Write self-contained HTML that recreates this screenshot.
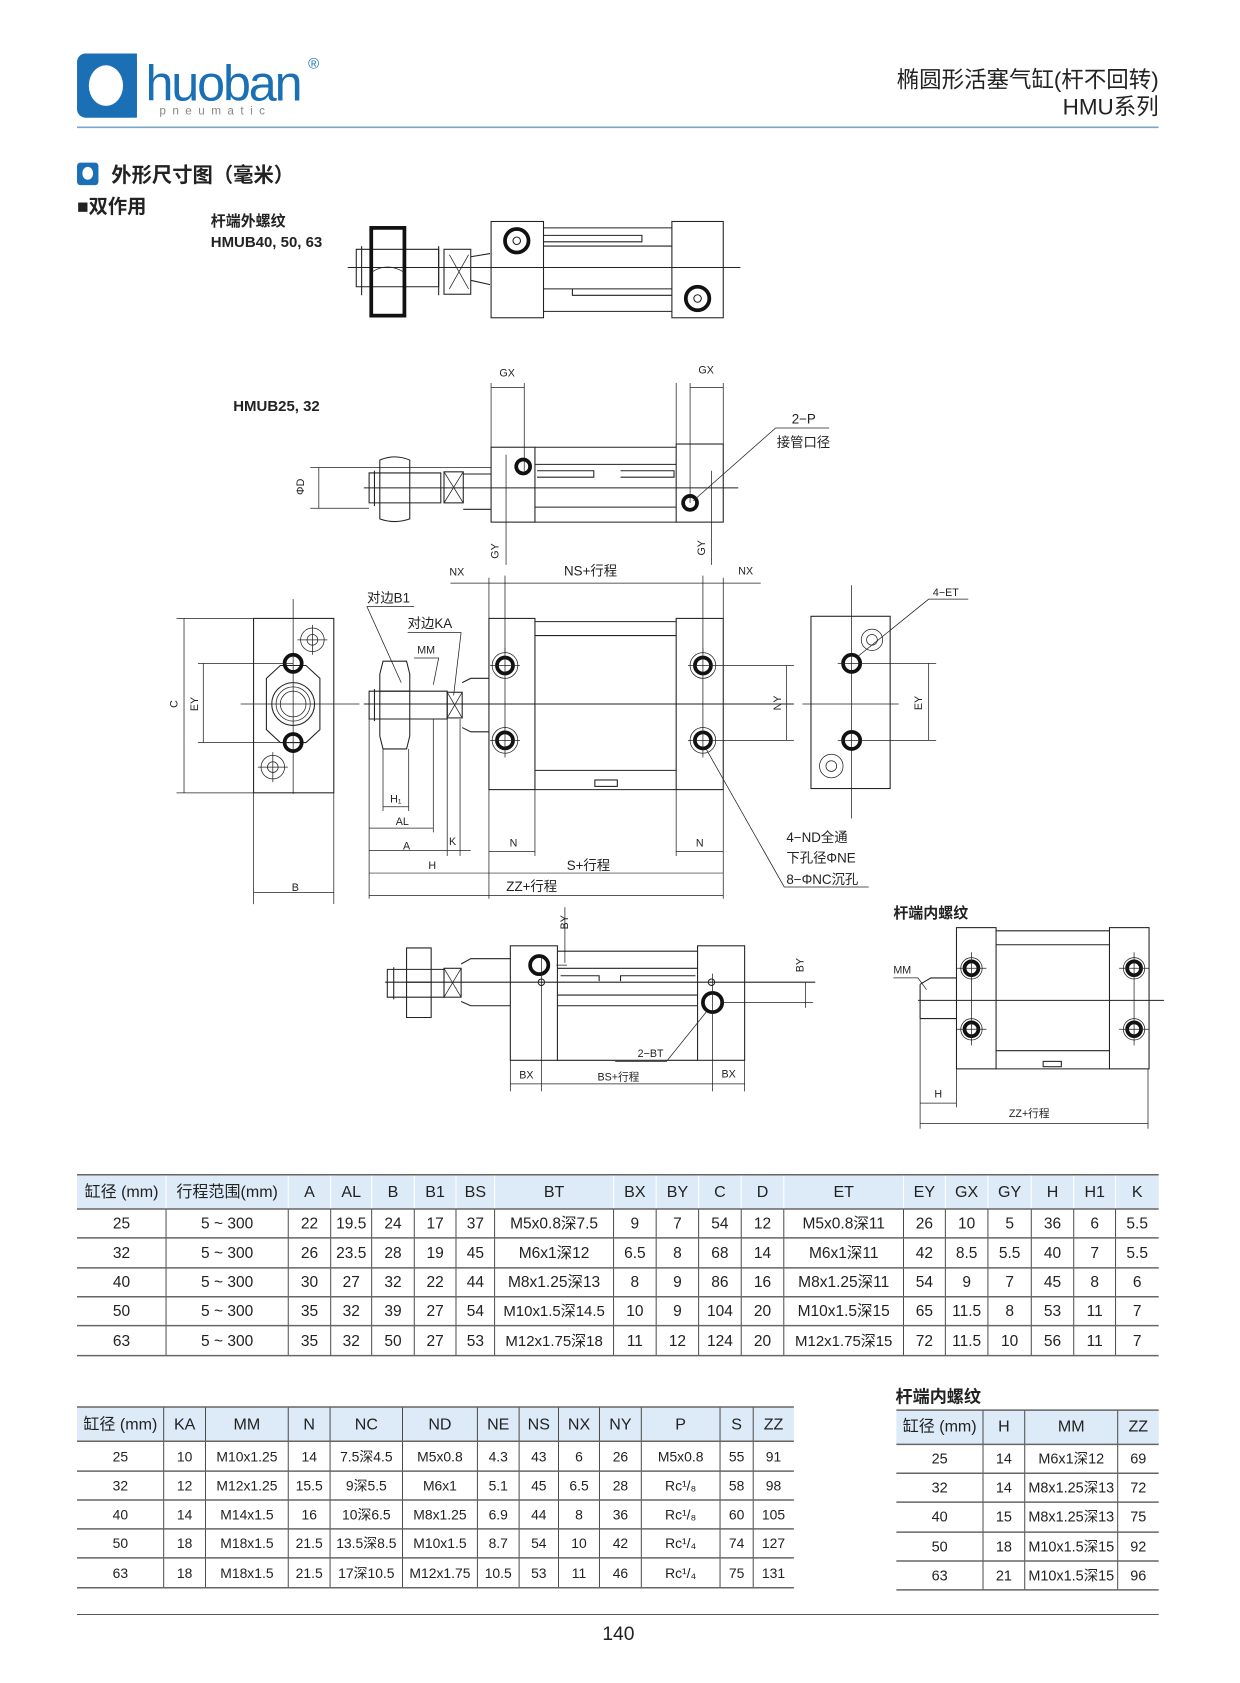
<!DOCTYPE html>
<html><head><meta charset="utf-8">
<style>
html,body{margin:0;padding:0;background:#fff;}
svg{display:block;}
text{font-family:"Liberation Sans","Noto Sans CJK SC",sans-serif;fill:#222;}
.t{font-size:14.5px;text-anchor:middle;}
.h{font-size:15px;text-anchor:middle;}
.s{font-size:10px;fill:#222;}
.m{font-size:12.5px;}
.l{stroke:#222;stroke-width:1;fill:none;}
.th{stroke:#222;stroke-width:0.7;fill:none;}
.bk{stroke:#111;stroke-width:3.5;fill:none;}
.b{font-weight:bold;}
</style></head><body>
<svg width="1240" height="1683" viewBox="0 0 1159 1573" preserveAspectRatio="none" xmlns="http://www.w3.org/2000/svg">
<rect width="1159" height="1573" fill="#fff"/>
<!-- logo -->
<rect x="72" y="50" width="56" height="60" rx="8" fill="#1b6fb5"/>
<rect x="120" y="50" width="8" height="60" fill="#1b6fb5"/>
<ellipse cx="99" cy="80" rx="16" ry="19" fill="#fff"/>
<text x="136" y="94" style="font-size:47px;fill:#1b6fb5;letter-spacing:-2px">huoban</text>
<text x="149" y="107" style="font-size:11px;fill:#888;letter-spacing:6px">pneumatic</text>
<text x="288" y="64" style="font-size:14px;fill:#1b6fb5">®</text>
<text x="1083" y="82" style="font-size:21px;text-anchor:end">椭圆形活塞气缸(杆不回转)</text>
<text x="1083" y="107" style="font-size:21px;text-anchor:end">HMU系列</text>
<line x1="72" y1="119" x2="1083" y2="119" stroke="#7aa6c8" stroke-width="1.6"/>
<!-- section -->
<rect x="72" y="152" width="20" height="21" rx="3" fill="#1b6fb5"/>
<ellipse cx="82" cy="162" rx="5" ry="6" fill="#fff"/>
<text x="104" y="170" class="b" style="font-size:19px">外形尺寸图（毫米）</text>
<text x="72" y="199" class="b" style="font-size:18px">■双作用</text>
<text x="197" y="211" class="b" style="font-size:14px">杆端外螺纹</text>
<text x="197" y="231" class="b" style="font-size:14px">HMUB40, 50, 63</text>

<!-- Drawing A -->
<g>
<line class="l" x1="325" y1="250" x2="692" y2="250"/>
<path class="l" d="M333 233 L410 233 L410 268 L333 268 Z"/>
<path class="l" d="M338 230 L338 276 M410 230 L410 276"/>
<rect class="l" x="415" y="233" width="25" height="42"/>
<path class="th" d="M420 238 L438 270 M438 238 L420 270"/>
<path class="l" d="M440 240 L458 237 M440 262 L458 266"/>
<rect class="bk" x="347" y="213" width="31" height="82"/>
<path class="th" d="M348 254 Q362 245 377 254"/>
<rect class="l" x="459" y="207" width="49" height="90"/>
<rect class="l" x="628" y="207" width="48" height="90"/>
<path class="l" d="M508 213 L628 213 M508 230 L628 230 M508 270 L628 270 M508 291 L628 291 M508 220 L600 220 L600 226 L508 226 M535 270 L535 276 L628 276"/>
<circle cx="483" cy="225" r="11" class="bk"/><circle cx="483" cy="225" r="3.5" class="l" stroke-width="2"/>
<circle cx="652" cy="279" r="11" class="bk"/><circle cx="652" cy="279" r="3.5" class="l" stroke-width="2"/>
</g>

<!-- Drawing B -->
<g>
<text x="218" y="384" class="b" style="font-size:14px">HMUB25, 32</text>
<line class="l" x1="340" y1="456" x2="690" y2="456"/>
<rect class="l" x="459" y="418" width="41" height="70"/>
<rect class="l" x="632" y="415" width="44" height="73"/>
<path class="l" d="M500 418 L632 418 M500 488 L632 488 M500 434 L632 434 M500 474 L632 474 M502 440 L555 440 L555 446 L502 446 M580 440 L630 440 L630 446 L580 446"/>
<path class="l" d="M345 442 L412 442 L412 470 L345 470 Z M350 440 L350 473"/>
<path class="l" d="M355 430 Q369 424 383 430 L383 485 Q369 490 355 485 Z"/>
<rect class="l" x="415" y="441" width="18" height="29"/><path class="th" d="M415 441 L433 470 M433 441 L415 470"/>
<path class="l" d="M433 443 L459 443 M433 476 L459 476"/>
<line class="th" x1="290" y1="437" x2="459" y2="437"/><line class="th" x1="290" y1="475" x2="345" y2="475"/>
<line class="th" x1="298" y1="437" x2="298" y2="475"/>
<text class="s" transform="translate(284,455) rotate(-90)" text-anchor="middle">ΦD</text>
<line class="th" x1="459" y1="358" x2="459" y2="418"/><line class="th" x1="490" y1="358" x2="490" y2="440"/>
<line class="th" x1="459" y1="362" x2="490" y2="362"/>
<text class="s" x="474" y="352" text-anchor="middle">GX</text>
<line class="th" x1="632" y1="358" x2="632" y2="415"/><line class="th" x1="676" y1="358" x2="676" y2="415"/>
<line class="th" x1="645" y1="362" x2="676" y2="362"/><line class="th" x1="645" y1="358" x2="645" y2="470"/>
<text class="s" x="660" y="349" text-anchor="middle">GX</text>
<circle cx="489" cy="436" r="6.5" class="bk" stroke-width="3"/>
<circle cx="645" cy="470" r="6.5" class="bk" stroke-width="3"/>
<line class="th" x1="473" y1="425" x2="473" y2="528"/>
<text class="s" transform="translate(466,515) rotate(-90)" text-anchor="middle">GY</text>
<line class="th" x1="665" y1="440" x2="665" y2="528"/>
<text class="s" transform="translate(659,512) rotate(-90)" text-anchor="middle">GY</text>
<text class="m" x="740" y="396">2−P</text>
<text class="m" x="726" y="418">接管口径</text>
<path class="th" d="M775 400 L725 400 L648 468"/>
</g>

<!-- Drawing C: left end view -->
<g>
<rect class="l" x="237" y="578" width="75" height="163"/>
<line class="th" x1="237" y1="741" x2="237" y2="845"/><line class="th" x1="312" y1="741" x2="312" y2="845"/>
<line class="th" x1="274" y1="560" x2="274" y2="742"/>
<line class="th" x1="225" y1="658" x2="336" y2="658"/>
<polygon class="l" points="249,634 262,622 286,622 299,634 299,682 286,694 262,694 249,682"/>
<circle cx="274" cy="658" r="20" class="l"/><circle cx="274" cy="658" r="16" class="th"/><circle cx="274" cy="658" r="12" class="th"/>
<circle cx="274" cy="620" r="8" class="bk" stroke-width="3"/><circle cx="274" cy="694" r="8" class="bk" stroke-width="3"/>
<circle cx="292" cy="598" r="11" class="th"/><circle cx="292" cy="598" r="5" class="th"/><path class="th" d="M278 598 L306 598 M292 584 L292 612"/>
<circle cx="255" cy="717" r="11" class="th"/><circle cx="255" cy="717" r="5" class="th"/><path class="th" d="M241 717 L269 717 M255 703 L255 731"/>
<path class="th" d="M165 578 L237 578 M165 741 L237 741 M172 578 L172 741 M185 620 L274 620 M185 694 L274 694 M190 620 L190 694"/>
<text class="s" transform="translate(166,658) rotate(-90)" text-anchor="middle">C</text>
<text class="s" transform="translate(185,658) rotate(-90)" text-anchor="middle">EY</text>
<line class="th" x1="237" y1="834" x2="312" y2="834"/>
<text class="s" x="276" y="833" text-anchor="middle">B</text>
</g>

<!-- Drawing C: main -->
<g>
<line class="l" x1="340" y1="658" x2="742" y2="658"/>
<rect class="l" x="457" y="578" width="43" height="160"/>
<rect class="l" x="632" y="578" width="44" height="160"/>
<path class="l" d="M500 581 L632 581 M500 738 L632 738 M500 594 L632 594 M500 720 L632 720"/>
<rect class="l" x="556" y="729" width="21" height="6"/>
<g class="bk" stroke-width="3">
<circle cx="472" cy="622" r="7.5"/><circle cx="472" cy="692" r="7.5"/><circle cx="657" cy="622" r="7.5"/><circle cx="657" cy="692" r="7.5"/></g>
<g class="th"><circle cx="472" cy="622" r="12"/><circle cx="472" cy="692" r="12"/><circle cx="657" cy="622" r="12"/><circle cx="657" cy="692" r="12"/>
<path d="M458 622 L486 622 M458 692 L486 692 M643 622 L676 622 M643 692 L676 692 M472 606 L472 708 M657 606 L657 708"/></g>
<path class="l" d="M345 646 L418 646 L418 672 L345 672 Z M350 644 L350 674"/>
<path class="l" d="M358 618 L380 618 L383 630 L383 688 L380 700 L358 700 L355 688 L355 630 Z M355 646 L383 646 M355 672 L383 672"/>
<rect class="l" x="418" y="647" width="14" height="24"/><path class="th" d="M418 647 L432 671 M432 647 L418 671"/>
<path class="l" d="M432 638 L440 634 L457 634 M432 680 L440 684 L457 684"/>
<path class="th" d="M457 540 L457 578 M676 540 L676 578 M472 538 L472 610 M657 538 L657 610 M421 545 L711 545"/>
<text class="s" x="427" y="538" text-anchor="middle">NX</text>
<text class="m" x="552" y="538" text-anchor="middle">NS+行程</text>
<text class="s" x="697" y="537" text-anchor="middle">NX</text>
<text class="m" x="343" y="563">对边B1</text><path class="th" d="M387 567 L343 567 L375 638"/>
<text class="m" x="381" y="587">对边KA</text><path class="th" d="M431 591 L381 591 M431 591 L424 650"/>
<text class="s" x="390" y="611">MM</text><path class="th" d="M387 615 L410 615 L405 640"/>
<path class="th" d="M345 672 L345 840 M358 700 L358 758 M382 700 L382 758 M405 672 L405 778 M418 672 L418 800 M430 672 L430 800 M457 738 L457 840 M500 738 L500 800 M632 738 L632 800 M676 738 L676 840"/>
<path class="th" d="M358 754 L382 754 M345 774 L405 774 M345 795 L418 795 M418 795 L440 795 M457 796 L500 796 M632 796 L676 796 M345 816 L457 816 M457 816 L676 816 M345 837 L676 837"/>
<text class="s" x="370" y="750" text-anchor="middle">H₁</text>
<text class="s" x="376" y="771" text-anchor="middle">AL</text>
<text class="s" x="380" y="794" text-anchor="middle">A</text>
<text class="s" x="423" y="790" text-anchor="middle">K</text>
<text class="s" x="480" y="791" text-anchor="middle">N</text>
<text class="s" x="654" y="791" text-anchor="middle">N</text>
<text class="s" x="404" y="812" text-anchor="middle">H</text>
<text class="m" x="550" y="813" text-anchor="middle">S+行程</text>
<text class="m" x="497" y="833" text-anchor="middle">ZZ+行程</text>
<path class="th" d="M676 622 L742 622 M676 692 L742 692 M735 622 L735 692"/>
<text class="s" transform="translate(730,657) rotate(-90)" text-anchor="middle">NY</text>
<text class="m" x="735" y="787">4−ND全通</text>
<text class="m" x="735" y="806">下孔径ΦNE</text>
<text class="m" x="735" y="826">8−ΦNC沉孔</text>
<path class="th" d="M812 829 L733 829 L660 700"/>
</g>

<!-- Drawing C: right end view -->
<g>
<rect class="l" x="758" y="576" width="74" height="161"/>
<line class="th" x1="796" y1="547" x2="796" y2="765"/>
<line class="th" x1="750" y1="658" x2="840" y2="658"/>
<circle cx="796" cy="620" r="8" class="bk" stroke-width="3"/><circle cx="796" cy="692" r="8" class="bk" stroke-width="3"/>
<circle cx="815" cy="598" r="10" class="th"/><circle cx="815" cy="598" r="5" class="th"/>
<circle cx="777" cy="716" r="11" class="th"/><circle cx="777" cy="716" r="5" class="th"/>
<path class="th" d="M783 620 L875 620 M783 692 L875 692 M868 620 L868 692"/>
<text class="s" transform="translate(862,657) rotate(-90)" text-anchor="middle">EY</text>
<text class="s" x="872" y="557">4−ET</text><path class="th" d="M905 560 L868 560 L800 615"/>
</g>

<!-- Drawing D left -->
<g>
<line class="l" x1="360" y1="918" x2="762" y2="918"/>
<rect class="l" x="477" y="884" width="44" height="107"/>
<rect class="l" x="652" y="884" width="44" height="107"/>
<path class="l" d="M521 889 L652 889 M521 991 L652 991 M521 905 L652 905 M521 930 L652 930 M521 940 L652 940 M524 912 L560 912 L560 917 M580 917 L580 912 L650 912"/>
<path class="l" d="M362 906 L415 906 L415 932 L362 932 Z M368 904 L368 934"/>
<path class="l" d="M380 886 L403 886 L403 951 L380 951 Z M380 918 L403 918"/>
<rect class="l" x="415" y="905" width="16" height="27"/><path class="th" d="M415 905 L431 932 M431 905 L415 932"/>
<path class="l" d="M431 901 L440 896 L477 896 M431 936 L440 940 L477 940"/>
<circle cx="504" cy="902" r="8.5" class="bk" stroke-width="3"/>
<circle cx="666" cy="937" r="9" class="bk" stroke-width="3"/>
<circle cx="506" cy="918" r="3" class="l" stroke-width="1.5"/><circle cx="665" cy="918" r="3" class="l" stroke-width="1.5"/>
<path class="th" d="M506 895 L506 1020 M666 910 L666 1020 M477 991 L477 1020 M696 991 L696 1020 M528 848 L528 900 M520 902 L530 902 M675 937 L760 937 M753 918 L753 942 M477 1013 L696 1013"/>
<text class="s" transform="translate(531,862) rotate(-90)" text-anchor="middle">BY</text>
<text class="s" transform="translate(751,902) rotate(-90)" text-anchor="middle">BY</text>
<text class="s" x="492" y="1008" text-anchor="middle">BX</text>
<text class="s" x="578" y="1010" text-anchor="middle">BS+行程</text>
<text class="s" x="681" y="1007" text-anchor="middle">BX</text>
<text class="s" x="596" y="988">2−BT</text><path class="th" d="M575 992 L623 992 L660 946"/>
</g>

<!-- Drawing D right -->
<g>
<text x="835" y="858" class="b" style="font-size:14px">杆端内螺纹</text>
<line class="l" x1="858" y1="935" x2="1088" y2="935"/>
<rect class="l" x="894" y="867" width="37" height="132"/>
<rect class="l" x="1037" y="867" width="37" height="132"/>
<path class="l" d="M931 870 L1037 870 M931 999 L1037 999 M931 883 L1037 883 M931 982 L1037 982"/>
<rect class="l" x="975" y="992" width="17" height="5"/>
<path class="l" d="M860 920 L870 914 L894 914 M860 952 L894 952 M860 920 L860 952"/>
<g class="bk" stroke-width="3"><circle cx="908" cy="905" r="6.5"/><circle cx="908" cy="962" r="6.5"/><circle cx="1060" cy="905" r="6.5"/><circle cx="1060" cy="962" r="6.5"/></g>
<g class="th"><circle cx="908" cy="905" r="10"/><circle cx="908" cy="962" r="10"/><circle cx="1060" cy="905" r="10"/><circle cx="1060" cy="962" r="10"/>
<path d="M894 905 L922 905 M894 962 L922 962 M1046 905 L1074 905 M1046 962 L1074 962 M908 890 L908 977 M1060 890 L1060 977"/></g>
<text class="s" x="835" y="910">MM</text><path class="th" d="M835 914 L858 914 L866 925"/>
<path class="th" d="M860 952 L860 1055 M894 999 L894 1035 M1073 999 L1073 1055 M860 1031 L894 1031 M860 1050 L1073 1050"/>
<text class="s" x="877" y="1026" text-anchor="middle">H</text>
<text class="s" x="962" y="1044" text-anchor="middle">ZZ+行程</text>
</g>

<!-- Table 1 -->
<g>
<rect x="72" y="1098" width="1011" height="32" fill="#dcebf7"/>
<g stroke="#fff" stroke-width="1">
<line x1="155.2" y1="1098" x2="155.2" y2="1130"/><line x1="269.4" y1="1098" x2="269.4" y2="1130"/><line x1="309.1" y1="1098" x2="309.1" y2="1130"/><line x1="347.4" y1="1098" x2="347.4" y2="1130"/><line x1="387.2" y1="1098" x2="387.2" y2="1130"/><line x1="426.2" y1="1098" x2="426.2" y2="1130"/><line x1="462.3" y1="1098" x2="462.3" y2="1130"/><line x1="573.5" y1="1098" x2="573.5" y2="1130"/><line x1="613.3" y1="1098" x2="613.3" y2="1130"/><line x1="653" y1="1098" x2="653" y2="1130"/><line x1="692.8" y1="1098" x2="692.8" y2="1130"/><line x1="732.6" y1="1098" x2="732.6" y2="1130"/><line x1="844.5" y1="1098" x2="844.5" y2="1130"/><line x1="883.6" y1="1098" x2="883.6" y2="1130"/><line x1="923.4" y1="1098" x2="923.4" y2="1130"/><line x1="963.9" y1="1098" x2="963.9" y2="1130"/><line x1="1003.6" y1="1098" x2="1003.6" y2="1130"/><line x1="1042.7" y1="1098" x2="1042.7" y2="1130"/>
</g>
<g stroke="#444" stroke-width="0.9">
<line x1="155.2" y1="1130" x2="155.2" y2="1267"/><line x1="269.4" y1="1130" x2="269.4" y2="1267"/><line x1="309.1" y1="1130" x2="309.1" y2="1267"/><line x1="347.4" y1="1130" x2="347.4" y2="1267"/><line x1="387.2" y1="1130" x2="387.2" y2="1267"/><line x1="426.2" y1="1130" x2="426.2" y2="1267"/><line x1="462.3" y1="1130" x2="462.3" y2="1267"/><line x1="573.5" y1="1130" x2="573.5" y2="1267"/><line x1="613.3" y1="1130" x2="613.3" y2="1267"/><line x1="653" y1="1130" x2="653" y2="1267"/><line x1="692.8" y1="1130" x2="692.8" y2="1267"/><line x1="732.6" y1="1130" x2="732.6" y2="1267"/><line x1="844.5" y1="1130" x2="844.5" y2="1267"/><line x1="883.6" y1="1130" x2="883.6" y2="1267"/><line x1="923.4" y1="1130" x2="923.4" y2="1267"/><line x1="963.9" y1="1130" x2="963.9" y2="1267"/><line x1="1003.6" y1="1130" x2="1003.6" y2="1267"/><line x1="1042.7" y1="1130" x2="1042.7" y2="1267"/>
</g>
<g stroke="#666" stroke-width="1.4">
<line x1="72" y1="1098" x2="1083" y2="1098"/><line x1="72" y1="1130" x2="1083" y2="1130"/><line x1="72" y1="1157" x2="1083" y2="1157"/><line x1="72" y1="1185" x2="1083" y2="1185"/><line x1="72" y1="1212" x2="1083" y2="1212"/><line x1="72" y1="1239" x2="1083" y2="1239"/><line x1="72" y1="1267" x2="1083" y2="1267"/>
</g>
<g class="h">
<text x="113.6" y="1119">缸径 (mm)</text><text x="212.3" y="1119">行程范围(mm)</text><text x="289.3" y="1119">A</text><text x="328.3" y="1119">AL</text><text x="367.3" y="1119">B</text><text x="406.7" y="1119">B1</text><text x="444.3" y="1119">BS</text><text x="517.9" y="1119">BT</text><text x="593.4" y="1119">BX</text><text x="633.2" y="1119">BY</text><text x="672.9" y="1119">C</text><text x="712.7" y="1119">D</text><text x="788.6" y="1119">ET</text><text x="864" y="1119">EY</text><text x="903.5" y="1119">GX</text><text x="943.7" y="1119">GY</text><text x="983.8" y="1119">H</text><text x="1023.2" y="1119">H1</text><text x="1062.9" y="1119">K</text>
</g>
<g class="t">
<text x="113.6" y="1148">25</text><text x="212.3" y="1148">5 ~ 300</text><text x="289.3" y="1148">22</text><text x="328.3" y="1148">19.5</text><text x="367.3" y="1148">24</text><text x="406.7" y="1148">17</text><text x="444.3" y="1148">37</text><text x="517.9" y="1148">M5x0.8深7.5</text><text x="593.4" y="1148">9</text><text x="633.2" y="1148">7</text><text x="672.9" y="1148">54</text><text x="712.7" y="1148">12</text><text x="788.6" y="1148">M5x0.8深11</text><text x="864" y="1148">26</text><text x="903.5" y="1148">10</text><text x="943.7" y="1148">5</text><text x="983.8" y="1148">36</text><text x="1023.2" y="1148">6</text><text x="1062.9" y="1148">5.5</text>
<text x="113.6" y="1176">32</text><text x="212.3" y="1176">5 ~ 300</text><text x="289.3" y="1176">26</text><text x="328.3" y="1176">23.5</text><text x="367.3" y="1176">28</text><text x="406.7" y="1176">19</text><text x="444.3" y="1176">45</text><text x="517.9" y="1176">M6x1深12</text><text x="593.4" y="1176">6.5</text><text x="633.2" y="1176">8</text><text x="672.9" y="1176">68</text><text x="712.7" y="1176">14</text><text x="788.6" y="1176">M6x1深11</text><text x="864" y="1176">42</text><text x="903.5" y="1176">8.5</text><text x="943.7" y="1176">5.5</text><text x="983.8" y="1176">40</text><text x="1023.2" y="1176">7</text><text x="1062.9" y="1176">5.5</text>
<text x="113.6" y="1203">40</text><text x="212.3" y="1203">5 ~ 300</text><text x="289.3" y="1203">30</text><text x="328.3" y="1203">27</text><text x="367.3" y="1203">32</text><text x="406.7" y="1203">22</text><text x="444.3" y="1203">44</text><text x="517.9" y="1203">M8x1.25深13</text><text x="593.4" y="1203">8</text><text x="633.2" y="1203">9</text><text x="672.9" y="1203">86</text><text x="712.7" y="1203">16</text><text x="788.6" y="1203">M8x1.25深11</text><text x="864" y="1203">54</text><text x="903.5" y="1203">9</text><text x="943.7" y="1203">7</text><text x="983.8" y="1203">45</text><text x="1023.2" y="1203">8</text><text x="1062.9" y="1203">6</text>
<text x="113.6" y="1230">50</text><text x="212.3" y="1230">5 ~ 300</text><text x="289.3" y="1230">35</text><text x="328.3" y="1230">32</text><text x="367.3" y="1230">39</text><text x="406.7" y="1230">27</text><text x="444.3" y="1230">54</text><text x="517.9" y="1230" style="font-size:14px">M10x1.5深14.5</text><text x="593.4" y="1230">10</text><text x="633.2" y="1230">9</text><text x="672.9" y="1230">104</text><text x="712.7" y="1230">20</text><text x="788.6" y="1230">M10x1.5深15</text><text x="864" y="1230">65</text><text x="903.5" y="1230">11.5</text><text x="943.7" y="1230">8</text><text x="983.8" y="1230">53</text><text x="1023.2" y="1230">11</text><text x="1062.9" y="1230">7</text>
<text x="113.6" y="1258">63</text><text x="212.3" y="1258">5 ~ 300</text><text x="289.3" y="1258">35</text><text x="328.3" y="1258">32</text><text x="367.3" y="1258">50</text><text x="406.7" y="1258">27</text><text x="444.3" y="1258">53</text><text x="517.9" y="1258" style="font-size:14px">M12x1.75深18</text><text x="593.4" y="1258">11</text><text x="633.2" y="1258">12</text><text x="672.9" y="1258">124</text><text x="712.7" y="1258">20</text><text x="788.6" y="1258" style="font-size:14px">M12x1.75深15</text><text x="864" y="1258">72</text><text x="903.5" y="1258">11.5</text><text x="943.7" y="1258">10</text><text x="983.8" y="1258">56</text><text x="1023.2" y="1258">11</text><text x="1062.9" y="1258">7</text>
</g>
</g>

<!-- Table 2 -->
<g>
<rect x="72" y="1315" width="670" height="32" fill="#dcebf7"/>
<g stroke="#444" stroke-width="0.9">
<line x1="153" y1="1315" x2="153" y2="1484"/><line x1="192.1" y1="1315" x2="192.1" y2="1484"/><line x1="269.4" y1="1315" x2="269.4" y2="1484"/><line x1="308.5" y1="1315" x2="308.5" y2="1484"/><line x1="376.2" y1="1315" x2="376.2" y2="1484"/><line x1="446.2" y1="1315" x2="446.2" y2="1484"/><line x1="485.2" y1="1315" x2="485.2" y2="1484"/><line x1="522" y1="1315" x2="522" y2="1484"/><line x1="560.3" y1="1315" x2="560.3" y2="1484"/><line x1="599.4" y1="1315" x2="599.4" y2="1484"/><line x1="673" y1="1315" x2="673" y2="1484"/><line x1="704" y1="1315" x2="704" y2="1484"/>
</g>
<g stroke="#666" stroke-width="1.4">
<line x1="72" y1="1315" x2="742" y2="1315"/><line x1="72" y1="1347" x2="742" y2="1347"/><line x1="72" y1="1375" x2="742" y2="1375"/><line x1="72" y1="1402" x2="742" y2="1402"/><line x1="72" y1="1429" x2="742" y2="1429"/><line x1="72" y1="1456" x2="742" y2="1456"/><line x1="72" y1="1484" x2="742" y2="1484"/>
</g>
<g class="h">
<text x="112.5" y="1336">缸径 (mm)</text><text x="172.6" y="1336">KA</text><text x="230.8" y="1336">MM</text><text x="289" y="1336">N</text><text x="342.4" y="1336">NC</text><text x="411.2" y="1336">ND</text><text x="465.7" y="1336">NE</text><text x="503.6" y="1336">NS</text><text x="541.2" y="1336">NX</text><text x="579.9" y="1336">NY</text><text x="636.2" y="1336">P</text><text x="688.5" y="1336">S</text><text x="723" y="1336">ZZ</text>
</g>
<g class="t" style="font-size:13px">
<text x="112.5" y="1366">25</text><text x="172.6" y="1366">10</text><text x="230.8" y="1366">M10x1.25</text><text x="289" y="1366">14</text><text x="342.4" y="1366">7.5深4.5</text><text x="411.2" y="1366">M5x0.8</text><text x="465.7" y="1366">4.3</text><text x="503.6" y="1366">43</text><text x="541.2" y="1366">6</text><text x="579.9" y="1366">26</text><text x="636.2" y="1366">M5x0.8</text><text x="688.5" y="1366">55</text><text x="723" y="1366">91</text>
<text x="112.5" y="1393">32</text><text x="172.6" y="1393">12</text><text x="230.8" y="1393">M12x1.25</text><text x="289" y="1393">15.5</text><text x="342.4" y="1393">9深5.5</text><text x="411.2" y="1393">M6x1</text><text x="465.7" y="1393">5.1</text><text x="503.6" y="1393">45</text><text x="541.2" y="1393">6.5</text><text x="579.9" y="1393">28</text><text x="636.2" y="1393">Rc¹/₈</text><text x="688.5" y="1393">58</text><text x="723" y="1393">98</text>
<text x="112.5" y="1420">40</text><text x="172.6" y="1420">14</text><text x="230.8" y="1420">M14x1.5</text><text x="289" y="1420">16</text><text x="342.4" y="1420">10深6.5</text><text x="411.2" y="1420">M8x1.25</text><text x="465.7" y="1420">6.9</text><text x="503.6" y="1420">44</text><text x="541.2" y="1420">8</text><text x="579.9" y="1420">36</text><text x="636.2" y="1420">Rc¹/₈</text><text x="688.5" y="1420">60</text><text x="723" y="1420">105</text>
<text x="112.5" y="1447">50</text><text x="172.6" y="1447">18</text><text x="230.8" y="1447">M18x1.5</text><text x="289" y="1447">21.5</text><text x="342.4" y="1447">13.5深8.5</text><text x="411.2" y="1447">M10x1.5</text><text x="465.7" y="1447">8.7</text><text x="503.6" y="1447">54</text><text x="541.2" y="1447">10</text><text x="579.9" y="1447">42</text><text x="636.2" y="1447">Rc¹/₄</text><text x="688.5" y="1447">74</text><text x="723" y="1447">127</text>
<text x="112.5" y="1475">63</text><text x="172.6" y="1475">18</text><text x="230.8" y="1475">M18x1.5</text><text x="289" y="1475">21.5</text><text x="342.4" y="1475">17深10.5</text><text x="411.2" y="1475">M12x1.75</text><text x="465.7" y="1475">10.5</text><text x="503.6" y="1475">53</text><text x="541.2" y="1475">11</text><text x="579.9" y="1475">46</text><text x="636.2" y="1475">Rc¹/₄</text><text x="688.5" y="1475">75</text><text x="723" y="1475">131</text>
</g>
</g>

<!-- Table 3 -->
<g>
<text x="837" y="1311" class="b" style="font-size:16px">杆端内螺纹</text>
<rect x="837.8" y="1318" width="245.2" height="32" fill="#dcebf7"/>
<g stroke="#444" stroke-width="0.9">
<line x1="918.8" y1="1318" x2="918.8" y2="1486"/><line x1="957.8" y1="1318" x2="957.8" y2="1486"/><line x1="1044.7" y1="1318" x2="1044.7" y2="1486"/>
</g>
<g stroke="#666" stroke-width="1.4">
<line x1="837.8" y1="1318" x2="1083" y2="1318"/><line x1="837.8" y1="1350" x2="1083" y2="1350"/><line x1="837.8" y1="1377" x2="1083" y2="1377"/><line x1="837.8" y1="1404" x2="1083" y2="1404"/><line x1="837.8" y1="1432" x2="1083" y2="1432"/><line x1="837.8" y1="1459" x2="1083" y2="1459"/><line x1="837.8" y1="1486" x2="1083" y2="1486"/>
</g>
<g class="h">
<text x="878.3" y="1338">缸径 (mm)</text><text x="938.3" y="1338">H</text><text x="1001.3" y="1338">MM</text><text x="1063.9" y="1338">ZZ</text>
</g>
<g class="t" style="font-size:13.5px">
<text x="878.3" y="1368">25</text><text x="938.3" y="1368">14</text><text x="1001.3" y="1368">M6x1深12</text><text x="1063.9" y="1368">69</text>
<text x="878.3" y="1395">32</text><text x="938.3" y="1395">14</text><text x="1001.3" y="1395">M8x1.25深13</text><text x="1063.9" y="1395">72</text>
<text x="878.3" y="1422">40</text><text x="938.3" y="1422">15</text><text x="1001.3" y="1422">M8x1.25深13</text><text x="1063.9" y="1422">75</text>
<text x="878.3" y="1450">50</text><text x="938.3" y="1450">18</text><text x="1001.3" y="1450">M10x1.5深15</text><text x="1063.9" y="1450">92</text>
<text x="878.3" y="1477">63</text><text x="938.3" y="1477">21</text><text x="1001.3" y="1477">M10x1.5深15</text><text x="1063.9" y="1477">96</text>
</g>
</g>

<!-- footer -->
<line x1="72" y1="1509" x2="1083" y2="1509" stroke="#555" stroke-width="1"/>
<text x="578" y="1533" style="font-size:18px;text-anchor:middle">140</text>
</svg>
</body></html>
